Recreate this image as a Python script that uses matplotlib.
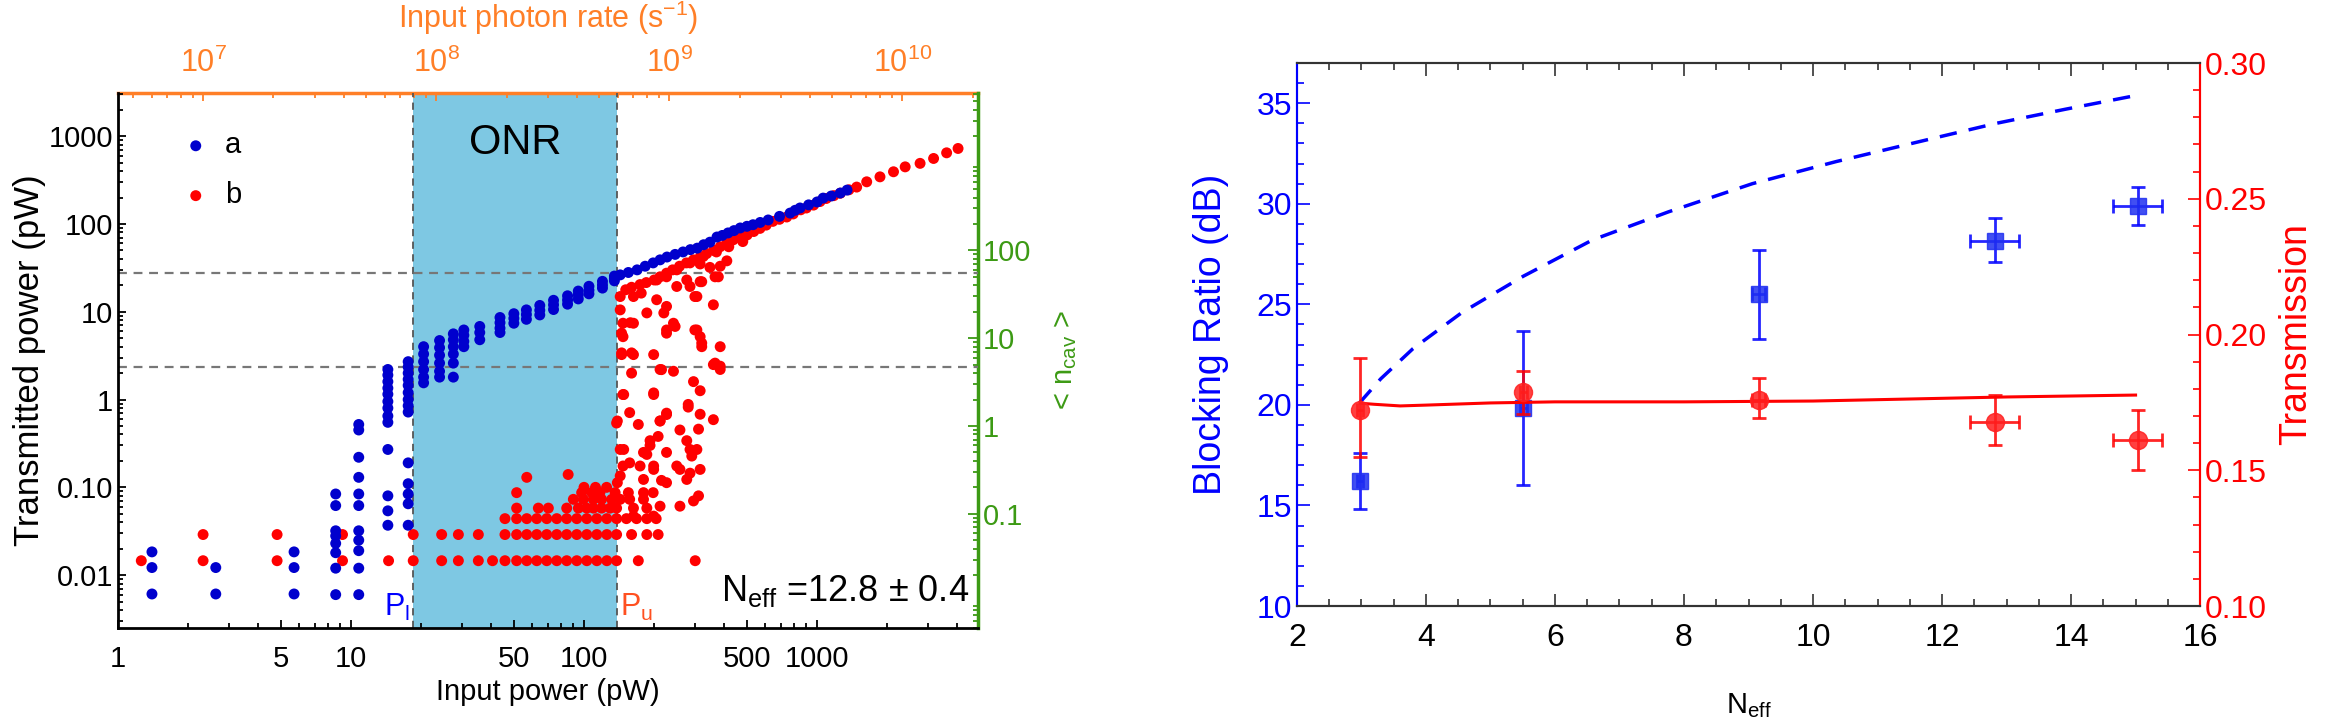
import matplotlib
matplotlib.use("Agg")
import matplotlib.pyplot as plt
from matplotlib.ticker import FixedLocator, FixedFormatter, NullFormatter, LogLocator, MultipleLocator, FormatStrFormatter

plt.rcParams['font.family'] = ['Liberation Sans', 'DejaVu Sans']
plt.rcParams['mathtext.fontset'] = 'custom'
plt.rcParams['mathtext.rm'] = 'Liberation Sans'
plt.rcParams['mathtext.it'] = 'Liberation Sans:italic'
plt.rcParams['mathtext.bf'] = 'Liberation Sans:bold'

# %% Data, left panel (input power pW, transmitted power pW)
blue_p = [1.4, 1.4, 1.4, 2.63, 2.63, 5.7, 5.7, 5.7,
          8.6, 8.6, 8.6, 8.6, 8.6, 8.6, 8.6, 8.6,
          10.8, 10.8, 10.8, 10.8, 10.8, 10.8, 10.8, 10.8, 10.8, 10.8, 10.8,
          14.4, 14.4, 14.4, 14.4, 14.4, 14.4, 14.4, 14.4, 14.4, 14.4, 14.4, 14.4, 14.4,
          17.6, 17.6, 17.6, 17.6, 17.6, 17.6, 17.6, 17.6, 17.6, 17.6, 17.6, 17.6, 17.6, 17.6,
          20.5, 20.5, 20.5, 20.5, 20.5, 20.5,
          24, 24, 24, 24, 24, 24,
          27.5, 27.5, 27.5, 27.5, 27.5, 27.5,
          30.5, 30.5, 30.5, 30.5,
          35.7, 35.7, 35.7,
          43.6, 43.6, 43.6, 43.6,
          50, 50, 50, 56.6, 56.6, 56.6, 64.6, 64.6, 64.6, 74, 74, 74,
          85, 85, 85, 94.5, 94.5, 94.5, 105, 105, 105, 120, 120, 120, 135, 135, 135,
          143, 155, 169, 183, 198, 212, 227, 246, 266, 286, 306, 326, 347, 372, 392,
          415, 440, 468, 500, 531, 570, 617, 690, 766, 805, 845, 920, 1000, 1062,
          1150, 1258, 1345]
blue_t = [0.0184, 0.0122, 0.0061, 0.0122, 0.0061, 0.0184, 0.0122, 0.0061,
          0.084, 0.062, 0.032, 0.028, 0.023, 0.018, 0.012, 0.006,
          0.52, 0.45, 0.22, 0.13, 0.084, 0.062, 0.032, 0.025, 0.019, 0.012, 0.006,
          2.2, 1.9, 1.6, 1.35, 1.15, 0.95, 0.8, 0.65, 0.55, 0.27, 0.08, 0.054, 0.037,
          2.7, 2.35, 2.0, 1.7, 1.45, 1.2, 1.0, 0.85, 0.72, 0.19, 0.11, 0.084, 0.065, 0.037,
          4.0, 3.3, 2.7, 2.2, 1.8, 1.55,
          4.7, 3.9, 3.2, 2.6, 2.1, 1.8,
          5.6, 4.8, 4.0, 3.3, 2.6, 1.8,
          6.2, 5.4, 4.6, 4.0,
          6.8, 5.8, 4.8,
          8.6, 7.5, 6.5, 5.8,
          9.5, 8.4, 7.4, 10.5, 9.3, 8.2, 11.8, 10.4, 9.2, 13.5, 12, 10.6,
          15.2, 13.6, 12.2, 17.2, 15.6, 14, 19.5, 17.6, 16, 22.2, 20.2, 18.6, 25.5, 24, 22.5,
          26.3, 28, 30, 33, 36, 39, 42, 45, 48, 51, 53, 58, 62, 71, 74,
          79, 84, 90, 94, 98, 104, 111, 122, 133, 143, 152, 165, 178, 197,
          208, 225, 243]

red_p = [1.26, 2.32, 2.32, 4.82, 4.82, 9.2, 9.2, 14.5,
         # row ~0.015
         18.5, 24.5, 28.9, 35.2, 40.5, 45.8, 51.4, 56.8, 62.7, 69.2, 76.4, 84.3, 93.1,
         102.8, 113.5, 125.3, 138, 171, 300,
         # row ~0.029
         18.5, 24.5, 28.9, 35.2, 45.8, 51.4, 56.8, 62.7, 69.2, 76.4, 84.3, 93.1,
         102.8, 113.5, 125.3, 138, 160, 186, 208,
         # row ~0.044
         45.8, 51.4, 56.8, 62.7, 69.2, 76.4, 84.3, 93.1, 102.8, 113.5, 125.3, 138,
         152, 168, 186, 204,
         # row ~0.058
         51.4, 63.7, 70.3, 84.3, 94.6, 102.8, 109.7, 119, 129.4, 138, 163, 186,
         # row ~0.073
         90, 99.3, 109.7, 119, 131.5, 143, 157, 180,
         # row ~0.087
         51.4, 97.7, 108, 117, 136, 155, 180, 198,
         56.8, 85.5, 100, 112, 125,
         # scatter beyond P_u
         143, 163, 143, 147, 163, 147, 145, 163, 160, 147, 139, 143, 147, 139,
         186, 199, 215, 199, 226, 212, 208, 192, 180, 174, 199, 215,
         176, 205, 226, 220, 242, 226,
         250, 276, 285, 315, 305, 299, 315, 320, 295, 315, 280, 315, 258, 285, 305,
         258, 285, 315, 295,
         359, 384, 365, 384, 359, 365, 384, 410, 347, 315,
         158, 145, 160, 145, 226, 246, 299, 320, 377, 305, 320, 212, 242, 359, 384,
         205, 226, 250, 285, 325, 370, 418, 480,
         148, 199, 280, 157, 226, 138, 171, 212, 310, 276, 192, 148, 186, 226, 157,
         199, 250, 290, 143, 180, 226, 276, 310, 212, 258, 163, 199,
         # upper branch
         151, 160, 174, 185, 200, 212, 226, 240, 257, 275, 295, 315, 336, 360, 384,
         410, 437, 470, 501, 535, 569, 605, 646, 690, 741, 790, 851, 900, 966, 1030,
         1096, 1180, 1259, 1370, 1479, 1633, 1862, 2128, 2388, 2767, 3162, 3597, 4027]
red_t = [0.0146, 0.029, 0.0146, 0.029, 0.0146, 0.029, 0.0146, 0.0146,
         0.0146, 0.0146, 0.0146, 0.0146, 0.0146, 0.0146, 0.0146, 0.0146, 0.0146, 0.0146,
         0.0146, 0.0146, 0.0146, 0.0146, 0.0146, 0.0146, 0.0146, 0.0146, 0.0146,
         0.029, 0.029, 0.029, 0.029, 0.029, 0.029, 0.029, 0.029, 0.029, 0.029, 0.029,
         0.029, 0.029, 0.029, 0.029, 0.029, 0.029, 0.029, 0.029,
         0.044, 0.044, 0.044, 0.044, 0.044, 0.044, 0.044, 0.044, 0.044, 0.044, 0.044,
         0.044, 0.044, 0.044, 0.044, 0.044,
         0.058, 0.058, 0.058, 0.058, 0.058, 0.058, 0.058, 0.058, 0.058, 0.058, 0.058, 0.058,
         0.073, 0.073, 0.073, 0.073, 0.073, 0.073, 0.073, 0.073,
         0.087, 0.087, 0.087, 0.087, 0.087, 0.087, 0.087, 0.087,
         0.13, 0.14, 0.1, 0.1, 0.1,
         14.9, 14.9, 10.5, 7.4, 7.4, 5.2, 3.25, 3.25, 2.0, 1.14, 0.57, 0.27, 0.175, 0.113,
         9.7, 3.25, 2.19, 1.14, 0.7, 0.57, 0.38, 0.3, 0.25, 0.175, 0.16, 0.12,
         16.3, 13.7, 11.5, 9.7, 7.4, 6.2,
         19.4, 23, 19.4, 22, 14.9, 6.2, 5.2, 4.0, 1.6, 1.26, 0.82, 0.68, 0.45, 0.27, 0.27,
         0.16, 0.145, 0.16, 0.07,
         12, 4.0, 2.6, 2.4, 0.59, 25, 33, 38, 32, 35,
         7.5, 5.7, 3.4, 3.4, 5.7, 6.8, 14.9, 22, 25, 6.2, 4.4, 2.2, 2.1, 2.5, 2.2,
         23, 25, 30, 36, 42.6, 48, 55, 63,
         1.14, 1.19, 0.88, 0.71, 0.675, 0.54, 0.52, 0.57, 0.46, 0.34, 0.34, 0.27, 0.237,
         0.25, 0.19, 0.175, 0.175, 0.227, 0.135, 0.123, 0.113, 0.123, 0.08, 0.061,
         0.061, 0.047, 0.047,
         17.8, 19, 20.4, 21.5, 23, 25, 27.5, 30, 33, 36, 39, 42, 46, 50, 55,
         60, 66, 70, 75, 82, 89, 97, 107, 113, 120, 130, 145, 152, 164, 180,
         195, 210, 224, 245, 263, 302, 344, 393, 447, 490, 557, 646, 724]

p_lower = 18.5
p_upper = 138
threshold_lines = [27.7, 2.37]
photons_per_pw = 4.3e6
ncav_per_pw = 2.0

x_ticks_left = [1, 5, 10, 50, 100, 500, 1000]
x_labels_left = ['1', '5', '10', '50', '100', '500', '1000']
y_ticks_left = [0.01, 0.1, 1, 10, 100, 1000]
y_labels_left = ['0.01', '0.10', '1', '10', '100', '1000']
ncav_ticks = [0.1, 1, 10, 100]
ncav_labels = ['0.1', '1', '10', '100']

# %% Data, right panel
neff = [2.98, 5.51, 9.16, 12.82, 15.03]
neff_err = [0.05, 0.05, 0.1, 0.38, 0.38]
blocking = [16.2, 19.85, 25.5, 28.15, 29.9]
blocking_lo = [1.4, 3.85, 2.2, 1.05, 0.95]
blocking_hi = [1.4, 3.8, 2.2, 1.15, 0.95]
trans = [0.1723, 0.1789, 0.1760, 0.1678, 0.1613]
trans_lo = [0.0173, 0.008, 0.0067, 0.0084, 0.0113]
trans_hi = [0.0191, 0.0078, 0.008, 0.0098, 0.011]

theory_n = [2.97, 3.3, 3.8, 4.56, 5.51, 6.58, 7.76, 9.06, 10.36, 11.66, 12.84, 13.91, 15.03]
theory_block = [20.1, 21.3, 22.8, 24.6, 26.4, 28.2, 29.6, 31.0, 32.1, 33.1, 34.0, 34.7, 35.4]
theory_trans_n = [2.98, 3.2, 3.6, 4.0, 5.0, 6.0, 8.0, 10.0, 12.0, 13.0, 15.0]
theory_trans = [0.1747, 0.1743, 0.1737, 0.1740, 0.1748, 0.1752, 0.1752, 0.1755, 0.1765, 0.1770, 0.1777]

# %% Colours
orange = '#FF7F27'
green = '#3C9A14'
onr_blue = '#7EC8E3'
dot_blue = '#0000CD'
dot_red = '#FF0000'

fig = plt.figure(figsize=(23.44, 7.25), dpi=100)

# %% Left panel
ax = fig.add_axes([0.0503, 0.1338, 0.3669, 0.7379])
ax.set_xscale('log')
ax.set_yscale('log')
ax.set_xlim(1, 4900)
ax.set_ylim(0.0025, 3100)

ax.axvspan(p_lower, p_upper, color=onr_blue, zorder=0, lw=0)
for xv in (p_lower, p_upper):
    ax.axvline(xv, color='#555555', ls=(0, (4, 3)), lw=1.3, zorder=1)
for yv in threshold_lines:
    ax.axhline(yv, color='#777777', ls=(0, (4, 3)), lw=1.6, zorder=1)

ax.scatter(red_p, red_t, s=62, color=dot_red, edgecolors='none', zorder=3, label='b')
ax.scatter(blue_p, blue_t, s=62, color=dot_blue, edgecolors='none', zorder=4, label='a')

handles, labels = ax.get_legend_handles_labels()
ax.legend(handles[::-1], labels[::-1], loc='upper left', bbox_to_anchor=(0.06, 0.95),
          frameon=False, fontsize=21, handlelength=1.0, handletextpad=0.5,
          labelspacing=0.75, borderaxespad=0)

ax.text(50.5, 830, 'ONR', ha='center', va='center', fontsize=30)
ax.text(0.99, 0.07, r'N$_{\rm eff}$ =12.8 ± 0.4', transform=ax.transAxes,
        ha='right', va='center', fontsize=26)
ax.text(p_lower * 0.97, 0.0043, r'P$_{\rm l}$', color='blue', ha='right', va='center', fontsize=22)
ax.text(p_upper * 1.03, 0.0043, r'P$_{\rm u}$', color='#FF5020', ha='left', va='center', fontsize=22)

ax.xaxis.set_major_locator(FixedLocator(x_ticks_left))
ax.xaxis.set_major_formatter(FixedFormatter(x_labels_left))
ax.xaxis.set_minor_locator(LogLocator(subs='all', numticks=20))
ax.xaxis.set_minor_formatter(NullFormatter())
ax.yaxis.set_major_locator(FixedLocator(y_ticks_left))
ax.yaxis.set_major_formatter(FixedFormatter(y_labels_left))
ax.yaxis.set_minor_locator(LogLocator(subs='all', numticks=20))
ax.yaxis.set_minor_formatter(NullFormatter())
ax.tick_params(which='both', direction='in', labelsize=21, width=1.3)
ax.tick_params(which='major', length=6)
ax.tick_params(which='minor', length=3.5)
ax.tick_params(axis='x', pad=12)
ax.set_xlabel('Input power (pW)', fontsize=21, labelpad=4)
ax.set_ylabel('Transmitted power (pW)', fontsize=25, labelpad=2)
ax.spines['top'].set_visible(False)
ax.spines['right'].set_visible(False)
ax.spines['left'].set_linewidth(2)
ax.spines['bottom'].set_linewidth(2)

secx = ax.secondary_xaxis('top', functions=(lambda p: p * photons_per_pw,
                                            lambda r: r / photons_per_pw))
secx.spines['top'].set_color(orange)
secx.spines['top'].set_linewidth(2.5)
secx.tick_params(which='both', direction='in', colors=orange, labelsize=22, width=1.3, pad=10)
secx.tick_params(which='major', length=6)
secx.tick_params(which='minor', length=3.5)
secx.set_xlabel(r'Input photon rate (s$^{-1}$)', color=orange, fontsize=22, labelpad=14)

secy = ax.secondary_yaxis('right', functions=(lambda t: t * ncav_per_pw,
                                              lambda n: n / ncav_per_pw))
secy.spines['right'].set_color(green)
secy.spines['right'].set_linewidth(2.5)
secy.yaxis.set_major_locator(FixedLocator(ncav_ticks))
secy.yaxis.set_major_formatter(FixedFormatter(ncav_labels))
secy.tick_params(which='both', direction='in', colors=green, labelsize=21, width=1.3)
secy.tick_params(which='major', length=7)
secy.tick_params(which='minor', length=3.5)
secy.set_ylabel(r'< n$_{\rm cav}$ >', color=green, fontsize=21, labelpad=14)

# %% Right panel
ax2 = fig.add_axes([0.5533, 0.1641, 0.3853, 0.749])
ax2r = ax2.twinx()

ax2.plot(theory_n, theory_block, color='blue', lw=2.5, dashes=(5, 3.5))
ax2.errorbar(neff, blocking, yerr=[blocking_lo, blocking_hi], xerr=neff_err, fmt='s',
             color='#2030F0', ms=12, alpha=0.85, ecolor='blue', elinewidth=2,
             capsize=5, capthick=2, zorder=5)
ax2r.plot(theory_trans_n, theory_trans, color='red', lw=2.2)
ax2r.errorbar(neff, trans, yerr=[trans_lo, trans_hi], xerr=neff_err, fmt='o',
              color='#FF2020', ms=13, alpha=0.85, ecolor='red', elinewidth=2,
              capsize=5, capthick=2, zorder=5)

ax2.set_xlim(2, 16)
ax2.set_ylim(10, 37)
ax2r.set_ylim(0.10, 0.30)
ax2.xaxis.set_major_locator(MultipleLocator(2))
ax2.xaxis.set_minor_locator(MultipleLocator(0.5))
ax2.yaxis.set_major_locator(MultipleLocator(5))
ax2.yaxis.set_minor_locator(MultipleLocator(1))
ax2r.yaxis.set_major_locator(MultipleLocator(0.05))
ax2r.yaxis.set_minor_locator(MultipleLocator(0.01))
ax2r.yaxis.set_major_formatter(FormatStrFormatter('%.2f'))

ax2.tick_params(which='both', direction='in', top=True, labelsize=23, width=1.2)
ax2.tick_params(which='major', length=9)
ax2.tick_params(which='minor', length=5)
ax2.tick_params(axis='y', which='both', colors='blue')
ax2.tick_params(axis='x', which='both', colors='#333333', labelcolor='black', pad=12)
ax2r.tick_params(which='both', direction='in', colors='red', labelsize=23, width=1.2)
ax2r.tick_params(which='major', length=9)
ax2r.tick_params(which='minor', length=5)

for a in (ax2, ax2r):
    a.spines['left'].set_color('blue')
    a.spines['right'].set_color('red')
    a.spines['top'].set_color('#333333')
    a.spines['bottom'].set_color('#333333')
    for s in a.spines.values():
        s.set_linewidth(1.5)

ax2.set_xlabel(r'N$_{\rm eff}$', fontsize=21, labelpad=28)
ax2.set_ylabel('Blocking Ratio (dB)', color='blue', fontsize=27, labelpad=20)
ax2r.set_ylabel('Transmission', color='red', fontsize=27, labelpad=8)

fig.savefig('out.png', dpi=100)
